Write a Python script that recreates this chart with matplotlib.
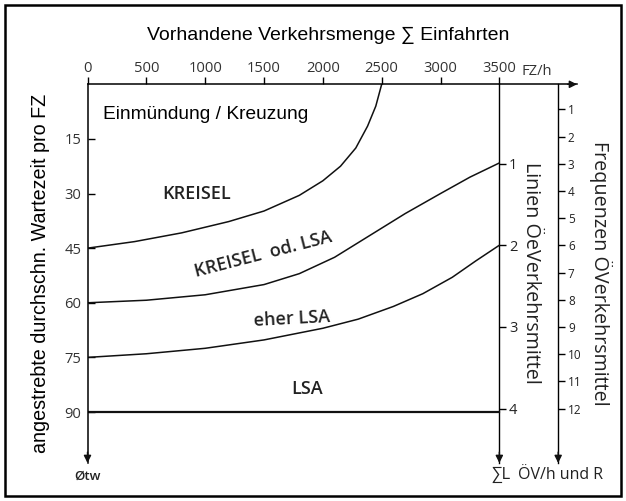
"""Einsatzbereiche Kreisel / LSA in Abhaengigkeit von Verkehrsmenge und Wartezeit."""

import matplotlib.pyplot as plt
from matplotlib.patches import Rectangle

W, H = 626, 501

# Grenzkurven: Verkehrsmenge [FZ/h] -> angestrebte Wartezeit [s]
kreuzung_vol = [0, 400, 800, 1200, 1500, 1800, 2000, 2150, 2280, 2380, 2450, 2500]
kreuzung_wait = [45, 43.2, 40.8, 37.7, 34.8, 30.5, 26.5, 22.5, 17.5, 11.5, 6, 0]

kreisel_vol = [0, 500, 1000, 1500, 1800, 2100, 2400, 2700, 3000, 3250, 3500]
kreisel_wait = [60, 59.3, 57.8, 55, 52, 47.5, 41.5, 35.5, 30, 25.5, 21.6]

eher_lsa_vol = [0, 500, 1000, 1500, 2000, 2300, 2600, 2850, 3100, 3300, 3500]
eher_lsa_wait = [75, 74, 72.5, 70.2, 67, 64.5, 61, 57.5, 53, 48.5, 44.2]

lsa_vol = [0, 3500]
lsa_wait = [90, 90]

vol_ticks = [0, 500, 1000, 1500, 2000, 2500, 3000, 3500]
wait_ticks = [15, 30, 45, 60, 75, 90]
linien_ticks = [1, 2, 3, 4]
freq_ticks = list(range(1, 13))

VOL_MAX = 4160
WAIT_MAX = 104
LINIEN_X = 3500
FREQ_X = 4000

SANS = "Liberation Sans"
HUMAN = "Open Sans"


def px(x, y):
    """Pixel position -> figure fraction."""
    return x / W, 1 - y / H


def wait_to_freq(w):
    return (w + 0.6) / 7.47


def freq_to_wait(f):
    return f * 7.47 - 0.6


def wait_to_linien(w):
    return wait_to_freq(w) / 3


def linien_to_wait(n):
    return freq_to_wait(n * 3)


fig = plt.figure(figsize=(W / 100, H / 100), dpi=100)
left, right = 87.5, 577
top, bottom = 84.3, 463
ax = fig.add_axes([left / W, 1 - bottom / H, (right - left) / W, (bottom - top) / H])
ax.set_xlim(0, VOL_MAX)
ax.set_ylim(WAIT_MAX, 0)
ax.patch.set_alpha(0)

for spine in ("right", "bottom"):
    ax.spines[spine].set_visible(False)
for spine in ("left", "top"):
    ax.spines[spine].set_linewidth(1.1)

ax.xaxis.tick_top()
ax.set_xticks(vol_ticks)
ax.set_xticklabels([str(v) for v in vol_ticks])
ax.tick_params(axis="x", direction="out", length=4.8, width=1, pad=1.2,
               labelsize=10.6, labelcolor="#333333")
ax.set_yticks(wait_ticks)
ax.set_yticklabels([str(v) for v in wait_ticks])
ax.tick_params(axis="y", direction="in", length=5, width=1, pad=4.5,
               labelsize=10.6, labelcolor="#333333")
for lab in ax.get_xticklabels() + ax.get_yticklabels():
    lab.set_fontfamily(HUMAN)

# Kurven
line_kw = dict(color="#111111", lw=1.1, solid_capstyle="round", solid_joinstyle="round")
ax.plot(kreuzung_vol, kreuzung_wait, **line_kw)
ax.plot(kreisel_vol, kreisel_wait, **line_kw)
ax.plot(eher_lsa_vol, eher_lsa_wait, **line_kw)
ax.plot(lsa_vol, lsa_wait, color="#111111", lw=1.6)

# Rechte Skalen: Linien und Frequenzen OeV
sec_lin = ax.secondary_yaxis(LINIEN_X / VOL_MAX, functions=(wait_to_linien, linien_to_wait))
sec_lin.set_yticks(linien_ticks)
sec_freq = ax.secondary_yaxis(FREQ_X / VOL_MAX, functions=(wait_to_freq, freq_to_wait))
sec_freq.set_yticks(freq_ticks)
for sec, size in ((sec_lin, 10.5), (sec_freq, 8.5)):
    for s in sec.spines.values():
        s.set_linewidth(1.0)
    sec.tick_params(direction="out", length=5, width=1, pad=2,
                    labelsize=size, labelcolor="#222222")
    for lab in sec.get_yticklabels():
        lab.set_fontfamily(HUMAN)

# Pfeilspitzen
arrow_kw = dict(arrowstyle="-|>", color="#111111", lw=1.0, mutation_scale=11,
                shrinkA=0, shrinkB=0)
for xpos in (0, LINIEN_X, FREQ_X):
    ax.annotate("", xy=(xpos, WAIT_MAX), xytext=(xpos, WAIT_MAX - 3),
                arrowprops=arrow_kw, annotation_clip=False)
ax.annotate("", xy=(VOL_MAX, 0), xytext=(VOL_MAX - 80, 0),
            arrowprops=arrow_kw, annotation_clip=False)

# Bereichsbeschriftungen
ax.text(132, 8.4, "Einmündung / Kreuzung", family=SANS, fontsize=13.8,
        ha="left", va="center")
label_kw = dict(family=HUMAN, fontsize=13, fontweight="semibold",
                color="#222222", ha="center", va="center")
ax.text(930, 30.1, "KREISEL", **label_kw)
ax.text(1490, 46.8, "KREISEL  od. LSA", rotation=14.5, **label_kw)
ax.text(1740, 64.4, "eher LSA", rotation=3, **label_kw)
ax.text(1865, 83.8, "LSA", **label_kw)

# Achsenbeschriftungen
ax.text(3690, -3.6, "FZ/h", family=HUMAN, fontsize=10.6, color="#333333",
        ha="left", va="center", clip_on=False)
ax.text(0, 107.6, "Øtw", family=HUMAN, fontsize=9.5, fontweight="semibold",
        color="#222222", ha="center", va="center", clip_on=False)
ax.text(3430, 107.4, "∑L", family=HUMAN, fontsize=12, color="#222222",
        ha="left", va="center", clip_on=False)
ax.text(3660, 107.4, "ÖV/h und R", family=HUMAN, fontsize=11.5,
        color="#222222", ha="left", va="center", clip_on=False)

fig.text(*px(328, 35), "Vorhandene Verkehrsmenge ∑ Einfahrten", family=SANS,
         fontsize=14, ha="center", va="center")
fig.text(*px(41, 273), "angestrebte durchschn. Wartezeit pro FZ", family=SANS,
         fontsize=14.2, rotation=90, ha="center", va="center")
fig.text(*px(531, 273), "Linien ÖeVerkehrsmittel", family=HUMAN, fontsize=14.2,
         rotation=-90, ha="center", va="center", color="#222222")
fig.text(*px(601, 273), "Frequenzen ÖVerkehrsmittel", family=HUMAN, fontsize=14.2,
         rotation=-90, ha="center", va="center", color="#222222")

# Rahmen
fig.patches.append(Rectangle(px(5, 496), 616 / W, 491 / H, transform=fig.transFigure,
                             fill=False, lw=1.8, edgecolor="black"))

fig.savefig("out.png", dpi=100)
